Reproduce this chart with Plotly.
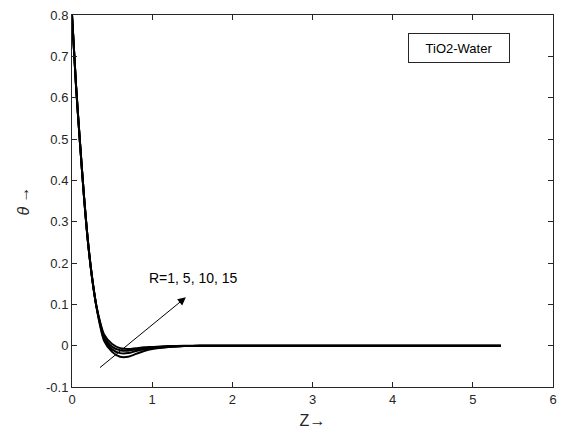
import plotly.graph_objects as go

# Data
z = [0, 0.05, 0.1, 0.15, 0.2, 0.25, 0.3, 0.35, 0.4, 0.5, 0.6, 0.7, 0.8, 0.9, 1.0, 1.2, 1.4, 1.6, 2.0, 3.0, 4.0, 5.35]
theta_R1 = [0.8, 0.63, 0.49, 0.36, 0.25, 0.165, 0.10, 0.058, 0.027, 0.004, -0.006, -0.008, -0.006, -0.004, -0.003, -0.001, 0.0, 0.0, 0.0, 0.0, 0.0, 0.0]
theta_R5 = [0.8, 0.63, 0.49, 0.36, 0.25, 0.165, 0.10, 0.055, 0.022, -0.003, -0.011, -0.012, -0.009, -0.006, -0.004, -0.002, -0.001, 0.0, 0.0, 0.0, 0.0, 0.0]
theta_R10 = [0.8, 0.63, 0.49, 0.36, 0.25, 0.165, 0.10, 0.052, 0.017, -0.009, -0.018, -0.018, -0.013, -0.009, -0.006, -0.003, -0.001, 0.0, 0.0, 0.0, 0.0, 0.0]
theta_R15 = [0.8, 0.63, 0.49, 0.36, 0.25, 0.165, 0.10, 0.049, 0.012, -0.015, -0.027, -0.027, -0.02, -0.013, -0.008, -0.003, -0.001, 0.0, 0.0, 0.0, 0.0, 0.0]
series = {"R=1": theta_R1, "R=5": theta_R5, "R=10": theta_R10, "R=15": theta_R15}

x_ticks = [0, 1, 2, 3, 4, 5, 6]
y_ticks = [-0.1, 0, 0.1, 0.2, 0.3, 0.4, 0.5, 0.6, 0.7, 0.8]
y_ticktext = ["-0.1", "0", "0.1", "0.2", "0.3", "0.4", "0.5", "0.6", "0.7", "0.8"]

axis_col = "#262626"
fam = "Liberation Sans, Arial, sans-serif"
font = dict(family=fam, size=13, color=axis_col)

fig = go.Figure()
for name, vals in series.items():
    fig.add_trace(go.Scatter(x=z, y=vals, mode="lines", name=name,
                             line=dict(color="black", width=2, shape="spline", smoothing=0.8),
                             showlegend=False))

# arrow
fig.add_annotation(x=1.42, y=0.117, ax=0.33, ay=-0.056, xref="x", yref="y",
                   axref="x", ayref="y", showarrow=True, arrowhead=2,
                   arrowsize=1.6, arrowwidth=1, arrowcolor="black", text="")
fig.add_annotation(x=0.94, y=0.164, xref="x", yref="y", text="R=1, 5, 10, 15",
                   showarrow=False, xanchor="left", yanchor="middle",
                   font=dict(family=fam, size=14, color="black"))
# legend-style box
fig.add_annotation(x=4.83, y=0.719, xref="x", yref="y", text="TiO2-Water",
                   showarrow=False, xanchor="center", yanchor="middle",
                   width=98, height=26, bordercolor=axis_col, borderwidth=1,
                   bgcolor="white",
                   font=dict(family=fam, size=13, color="black"))

fig.update_layout(
    width=565, height=438,
    margin=dict(l=72, r=8, t=14, b=51),
    paper_bgcolor="white", plot_bgcolor="white",
    font=font,
    xaxis=dict(range=[0, 6], tickvals=x_ticks, ticks="inside", ticklen=5,
               tickcolor=axis_col, showline=True, linecolor=axis_col, linewidth=1,
               mirror="ticks", showgrid=False, zeroline=False,
               title=dict(text="Z\u2192", font=dict(size=16, color=axis_col), standoff=9)),
    yaxis=dict(range=[-0.1, 0.8], tickvals=y_ticks, ticktext=y_ticktext, ticks="inside",
               ticklen=5, tickcolor=axis_col, showline=True, linecolor=axis_col,
               linewidth=1, mirror="ticks", showgrid=False, zeroline=False,
               title=dict(text="<i>\u03b8</i> \u2192", font=dict(size=16, color=axis_col), standoff=12)),
)

fig.write_html("out.html")
